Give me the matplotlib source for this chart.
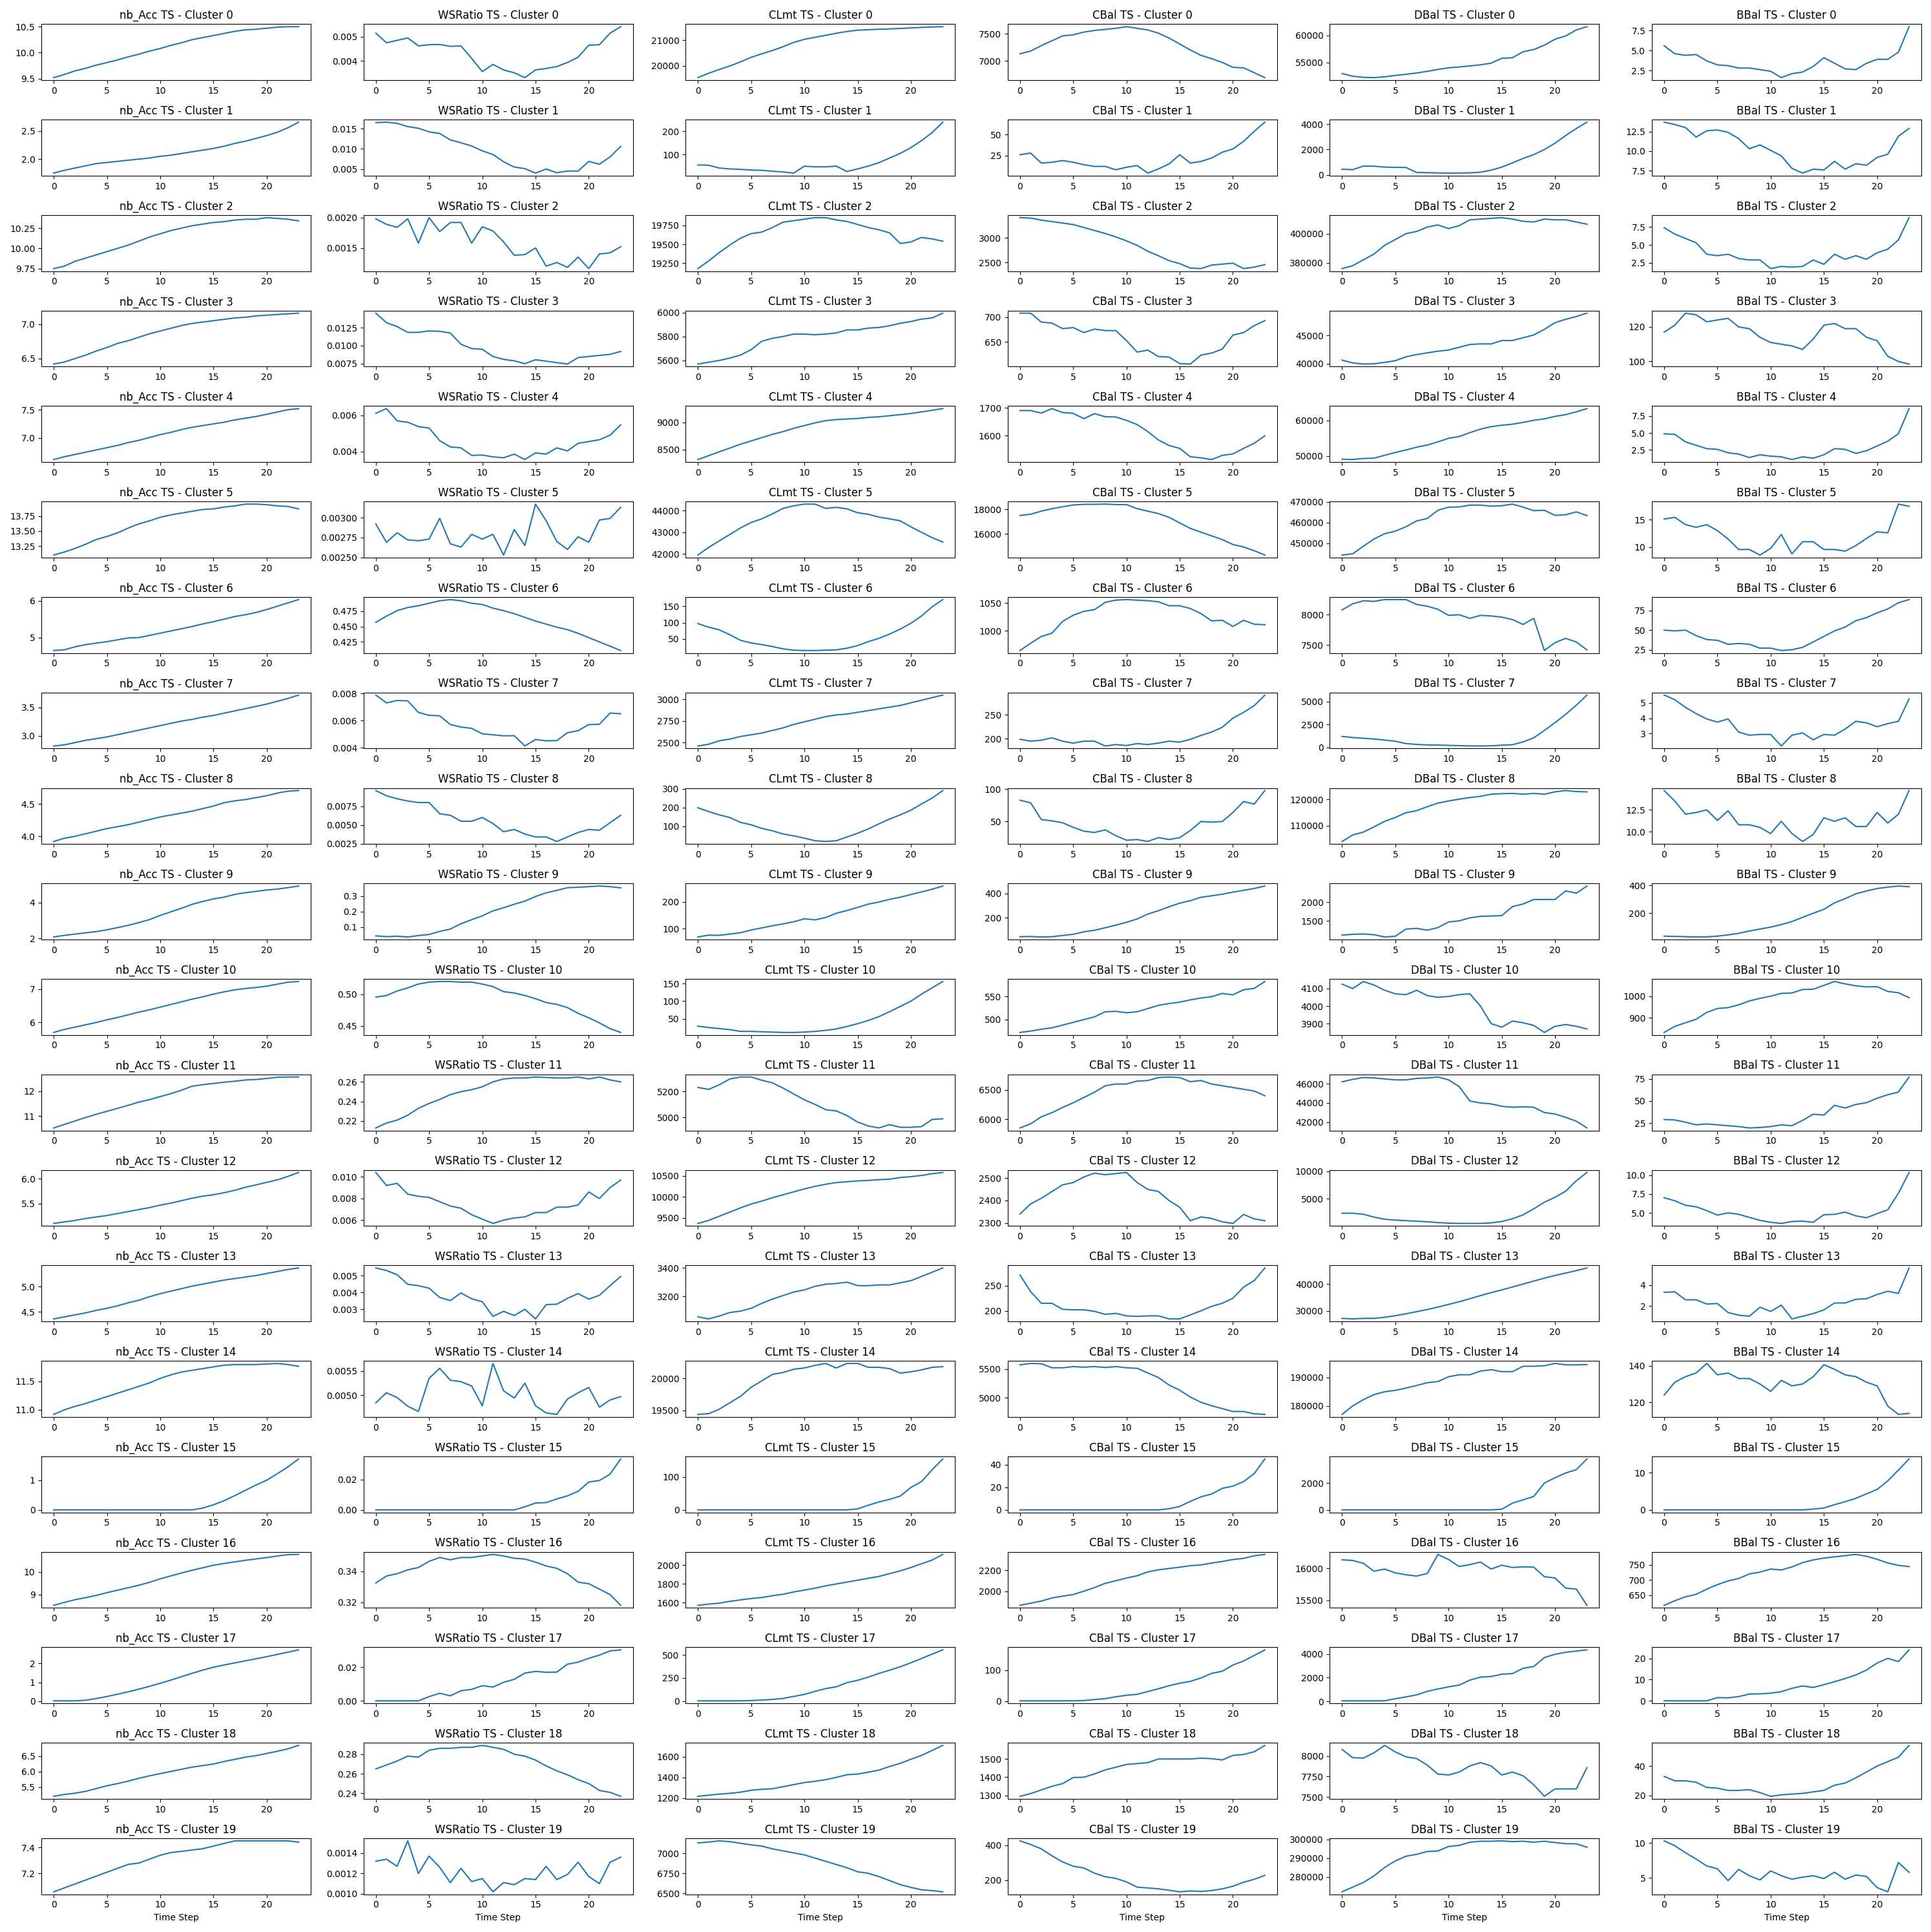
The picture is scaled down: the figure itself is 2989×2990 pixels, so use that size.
import matplotlib
matplotlib.use("Agg")
import matplotlib.pyplot as plt

time_steps = list(range(24))
feature_names = ["nb_Acc", "WSRatio", "CLmt", "CBal", "DBal", "BBal"]

nb_acc = [
    [9.52, 9.58, 9.65, 9.70, 9.76, 9.81, 9.86, 9.92, 9.97, 10.03, 10.08, 10.14, 10.19, 10.25, 10.29, 10.33, 10.37, 10.41, 10.44, 10.45, 10.47, 10.49, 10.50, 10.50],
    [1.75, 1.80, 1.84, 1.88, 1.92, 1.94, 1.96, 1.98, 2.00, 2.02, 2.05, 2.07, 2.10, 2.13, 2.16, 2.19, 2.23, 2.28, 2.32, 2.37, 2.42, 2.48, 2.56, 2.66],
    [9.75, 9.78, 9.84, 9.88, 9.92, 9.96, 10.00, 10.04, 10.09, 10.14, 10.18, 10.22, 10.25, 10.28, 10.30, 10.32, 10.33, 10.35, 10.36, 10.36, 10.38, 10.37, 10.36, 10.34],
    [6.42, 6.45, 6.50, 6.55, 6.61, 6.66, 6.72, 6.76, 6.81, 6.86, 6.90, 6.94, 6.98, 7.01, 7.03, 7.05, 7.07, 7.09, 7.10, 7.12, 7.13, 7.14, 7.15, 7.16],
    [6.62, 6.67, 6.71, 6.75, 6.79, 6.83, 6.87, 6.92, 6.96, 7.01, 7.06, 7.10, 7.15, 7.19, 7.22, 7.25, 7.28, 7.32, 7.35, 7.38, 7.42, 7.46, 7.50, 7.52],
    [13.10, 13.15, 13.21, 13.28, 13.36, 13.41, 13.47, 13.55, 13.62, 13.67, 13.73, 13.77, 13.80, 13.83, 13.86, 13.87, 13.90, 13.92, 13.95, 13.95, 13.94, 13.92, 13.91, 13.87],
    [4.65, 4.67, 4.75, 4.81, 4.85, 4.89, 4.94, 4.99, 5.00, 5.06, 5.12, 5.18, 5.24, 5.30, 5.37, 5.43, 5.50, 5.57, 5.62, 5.68, 5.76, 5.85, 5.94, 6.03],
    [2.82, 2.84, 2.88, 2.92, 2.95, 2.98, 3.02, 3.06, 3.10, 3.14, 3.18, 3.22, 3.26, 3.29, 3.33, 3.36, 3.40, 3.44, 3.48, 3.52, 3.56, 3.61, 3.66, 3.72],
    [3.92, 3.97, 4.00, 4.04, 4.08, 4.12, 4.15, 4.18, 4.22, 4.26, 4.30, 4.33, 4.36, 4.39, 4.43, 4.47, 4.52, 4.55, 4.57, 4.60, 4.63, 4.67, 4.70, 4.71],
    [2.08, 2.17, 2.24, 2.31, 2.38, 2.48, 2.60, 2.73, 2.88, 3.05, 3.28, 3.48, 3.68, 3.90, 4.06, 4.20, 4.30, 4.45, 4.55, 4.62, 4.70, 4.75, 4.83, 4.92],
    [5.70, 5.79, 5.86, 5.93, 6.00, 6.08, 6.15, 6.23, 6.31, 6.38, 6.46, 6.54, 6.62, 6.70, 6.77, 6.85, 6.92, 6.98, 7.02, 7.05, 7.09, 7.15, 7.21, 7.23],
    [10.52, 10.66, 10.80, 10.94, 11.07, 11.19, 11.31, 11.43, 11.56, 11.66, 11.78, 11.90, 12.04, 12.20, 12.26, 12.31, 12.36, 12.40, 12.45, 12.47, 12.51, 12.56, 12.57, 12.57],
    [5.10, 5.13, 5.16, 5.20, 5.23, 5.26, 5.30, 5.34, 5.38, 5.42, 5.47, 5.51, 5.56, 5.61, 5.65, 5.68, 5.72, 5.77, 5.83, 5.88, 5.93, 5.98, 6.05, 6.13],
    [4.36, 4.40, 4.44, 4.48, 4.53, 4.57, 4.62, 4.68, 4.73, 4.80, 4.86, 4.91, 4.96, 5.01, 5.05, 5.09, 5.13, 5.16, 5.19, 5.22, 5.26, 5.30, 5.34, 5.37],
    [10.92, 11.00, 11.06, 11.11, 11.17, 11.23, 11.29, 11.35, 11.41, 11.47, 11.55, 11.61, 11.66, 11.69, 11.72, 11.75, 11.78, 11.79, 11.79, 11.79, 11.80, 11.81, 11.79, 11.76],
    [0.0, 0.0, 0.0, 0.0, 0.0, 0.0, 0.0, 0.0, 0.0, 0.0, 0.0, 0.0, 0.0, 0.0, 0.06, 0.17, 0.31, 0.48, 0.66, 0.84, 1.00, 1.22, 1.45, 1.72],
    [8.53, 8.66, 8.78, 8.87, 8.97, 9.09, 9.20, 9.31, 9.42, 9.55, 9.70, 9.83, 9.96, 10.08, 10.19, 10.30, 10.38, 10.45, 10.52, 10.58, 10.64, 10.71, 10.77, 10.78],
    [0.02, 0.02, 0.02, 0.05, 0.14, 0.25, 0.37, 0.50, 0.64, 0.79, 0.95, 1.12, 1.30, 1.48, 1.65, 1.80, 1.92, 2.03, 2.14, 2.25, 2.36, 2.48, 2.60, 2.72],
    [5.20, 5.26, 5.30, 5.36, 5.45, 5.54, 5.61, 5.69, 5.78, 5.86, 5.93, 6.00, 6.07, 6.14, 6.19, 6.24, 6.32, 6.39, 6.46, 6.51, 6.58, 6.65, 6.73, 6.84],
    [7.06, 7.09, 7.12, 7.15, 7.18, 7.21, 7.24, 7.27, 7.28, 7.31, 7.34, 7.36, 7.37, 7.38, 7.39, 7.41, 7.43, 7.45, 7.45, 7.45, 7.45, 7.45, 7.45, 7.44],
]

ws_ratio = [
    [0.00515, 0.00475, 0.00485, 0.00495, 0.00462, 0.00467, 0.00468, 0.00460, 0.00462, 0.00410, 0.00355, 0.00385, 0.00362, 0.00350, 0.00330, 0.00362, 0.00368, 0.00376, 0.00393, 0.00415, 0.00465, 0.00467, 0.00515, 0.00542],
    [0.0165, 0.0166, 0.0163, 0.0155, 0.0151, 0.0142, 0.0138, 0.0122, 0.0115, 0.0107, 0.0095, 0.0086, 0.0068, 0.0055, 0.0051, 0.0040, 0.0050, 0.0041, 0.0045, 0.0045, 0.0069, 0.0062, 0.0080, 0.0106],
    [0.00198, 0.00189, 0.00184, 0.00198, 0.00158, 0.00200, 0.00177, 0.00192, 0.00192, 0.00158, 0.00185, 0.00178, 0.00160, 0.00138, 0.00139, 0.00150, 0.00120, 0.00126, 0.00118, 0.00135, 0.00116, 0.00140, 0.00142, 0.00152],
    [0.01452, 0.01320, 0.01265, 0.01185, 0.01185, 0.01205, 0.01200, 0.01175, 0.01020, 0.00960, 0.00950, 0.00850, 0.00810, 0.00790, 0.00750, 0.00805, 0.00785, 0.00765, 0.00745, 0.00835, 0.00850, 0.00865, 0.00880, 0.00920],
    [0.00612, 0.00638, 0.00570, 0.00562, 0.00538, 0.00530, 0.00460, 0.00425, 0.00420, 0.00378, 0.00380, 0.00370, 0.00365, 0.00385, 0.00355, 0.00392, 0.00385, 0.00420, 0.00403, 0.00445, 0.00455, 0.00465, 0.00490, 0.00548],
    [0.00292, 0.00269, 0.00281, 0.00272, 0.00271, 0.00273, 0.00299, 0.00267, 0.00263, 0.00279, 0.00273, 0.00279, 0.00253, 0.00285, 0.00265, 0.00317, 0.00296, 0.00270, 0.00260, 0.00276, 0.00269, 0.00297, 0.00299, 0.00313],
    [0.457, 0.467, 0.476, 0.481, 0.484, 0.488, 0.492, 0.494, 0.492, 0.488, 0.486, 0.480, 0.476, 0.471, 0.465, 0.459, 0.454, 0.449, 0.445, 0.439, 0.432, 0.425, 0.418, 0.411],
    [0.00788, 0.00730, 0.00748, 0.00745, 0.00660, 0.00638, 0.00635, 0.00570, 0.00552, 0.00542, 0.00502, 0.00495, 0.00487, 0.00488, 0.00412, 0.00460, 0.00450, 0.00452, 0.00510, 0.00525, 0.00570, 0.00572, 0.00655, 0.00650],
    [0.0096, 0.0089, 0.0085, 0.0082, 0.0080, 0.0080, 0.0065, 0.0063, 0.0055, 0.0055, 0.0060, 0.0052, 0.0041, 0.0044, 0.0038, 0.0034, 0.0034, 0.0028, 0.0034, 0.0040, 0.0044, 0.0043, 0.0053, 0.0063],
    [0.043, 0.038, 0.041, 0.036, 0.045, 0.052, 0.072, 0.087, 0.122, 0.148, 0.173, 0.205, 0.225, 0.248, 0.268, 0.298, 0.322, 0.338, 0.355, 0.358, 0.362, 0.366, 0.362, 0.354],
    [0.4955, 0.498, 0.505, 0.510, 0.516, 0.519, 0.520, 0.520, 0.519, 0.519, 0.516, 0.512, 0.504, 0.502, 0.498, 0.493, 0.487, 0.484, 0.479, 0.470, 0.463, 0.455, 0.446, 0.440],
    [0.213, 0.218, 0.221, 0.226, 0.233, 0.238, 0.242, 0.247, 0.250, 0.252, 0.255, 0.260, 0.263, 0.264, 0.264, 0.265, 0.2645, 0.264, 0.264, 0.265, 0.263, 0.265, 0.262, 0.260],
    [0.0104, 0.0092, 0.0094, 0.0084, 0.0082, 0.0081, 0.0077, 0.0073, 0.0071, 0.0065, 0.0061, 0.0057, 0.0060, 0.0062, 0.0063, 0.0067, 0.0067, 0.0072, 0.0072, 0.0074, 0.0086, 0.0080, 0.0090, 0.0097],
    [0.00545, 0.00530, 0.00505, 0.00448, 0.00440, 0.00425, 0.00370, 0.00352, 0.00397, 0.00362, 0.00345, 0.00258, 0.00288, 0.00263, 0.00300, 0.00243, 0.00328, 0.00330, 0.00365, 0.00393, 0.00360, 0.00383, 0.00440, 0.00495],
    [0.00484, 0.00505, 0.00495, 0.00477, 0.00466, 0.00535, 0.00556, 0.00531, 0.00528, 0.00519, 0.00478, 0.00566, 0.00509, 0.00494, 0.00525, 0.00478, 0.00463, 0.00460, 0.00492, 0.00505, 0.00516, 0.00475, 0.00490, 0.00497],
    [0.0, 0.0, 0.0, 0.0, 0.0, 0.0, 0.0, 0.0, 0.0, 0.0, 0.0, 0.0, 0.0, 0.0, 0.0020, 0.0045, 0.0048, 0.0072, 0.0092, 0.0122, 0.0183, 0.0193, 0.0235, 0.0335],
    [0.3325, 0.3370, 0.3385, 0.3410, 0.3425, 0.3465, 0.3490, 0.3475, 0.3490, 0.3490, 0.3500, 0.3510, 0.3500, 0.3485, 0.3480, 0.3460, 0.3435, 0.3420, 0.3385, 0.3330, 0.3320, 0.3285, 0.3250, 0.3180],
    [0.0, 0.0, 0.0, 0.0, 0.0, 0.0025, 0.0045, 0.0030, 0.0060, 0.0068, 0.0090, 0.0082, 0.0110, 0.0128, 0.0165, 0.0175, 0.0170, 0.0171, 0.0218, 0.0230, 0.0253, 0.0272, 0.0297, 0.0303],
    [0.265, 0.269, 0.273, 0.278, 0.277, 0.284, 0.286, 0.286, 0.287, 0.287, 0.289, 0.287, 0.285, 0.280, 0.278, 0.274, 0.268, 0.263, 0.259, 0.254, 0.250, 0.243, 0.241, 0.237],
    [0.00132, 0.00134, 0.00127, 0.00152, 0.00120, 0.00137, 0.00126, 0.00111, 0.00125, 0.00112, 0.00115, 0.00102, 0.00111, 0.00109, 0.00115, 0.00114, 0.00127, 0.00114, 0.00119, 0.00131, 0.00117, 0.00110, 0.00131, 0.00136],
]

clmt = [
    [19530, 19700, 19850, 19990, 20150, 20330, 20470, 20600, 20750, 20920, 21040, 21120, 21200, 21280, 21350, 21400, 21420, 21440, 21450, 21470, 21490, 21510, 21530, 21540],
    [55, 54, 42, 38, 36, 33, 32, 28, 25, 20, 50, 47, 47, 50, 27, 38, 50, 65, 85, 105, 130, 160, 195, 240],
    [19180, 19280, 19390, 19490, 19580, 19640, 19660, 19720, 19790, 19810, 19830, 19850, 19850, 19820, 19800, 19760, 19720, 19690, 19650, 19510, 19530, 19590, 19570, 19540],
    [5570, 5585, 5600, 5620, 5645, 5690, 5760, 5785, 5800, 5820, 5820, 5815, 5820, 5830, 5855, 5855, 5870, 5875, 5890, 5910, 5925, 5945, 5955, 5995],
    [8320, 8390, 8460, 8530, 8600, 8660, 8720, 8780, 8830, 8890, 8940, 8990, 9030, 9050, 9060, 9070, 9090, 9100, 9120, 9140, 9160, 9190, 9220, 9250],
    [41950, 42300, 42600, 42900, 43200, 43450, 43620, 43850, 44100, 44220, 44300, 44300, 44100, 44150, 44080, 43900, 43830, 43700, 43620, 43530, 43250, 43000, 42750, 42550],
    [97, 86, 78, 63, 46, 38, 33, 27, 20, 16, 15, 15, 16, 17, 22, 30, 42, 52, 65, 80, 98, 120, 148, 170],
    [2460, 2480, 2520, 2540, 2570, 2590, 2610, 2640, 2670, 2710, 2740, 2770, 2800, 2820, 2830, 2850, 2870, 2890, 2910, 2930, 2960, 2990, 3020, 3050],
    [198, 178, 160, 146, 120, 107, 88, 75, 58, 48, 36, 22, 18, 22, 42, 62, 85, 112, 138, 160, 185, 218, 250, 290],
    [69, 76, 75, 80, 85, 95, 103, 111, 118, 126, 137, 133, 142, 158, 168, 180, 192, 200, 210, 218, 228, 238, 248, 260],
    [29, 25, 22, 19, 14, 14, 13, 12, 11, 11, 12, 14, 17, 21, 28, 36, 45, 56, 70, 85, 100, 120, 138, 156],
    [5230, 5215, 5250, 5295, 5310, 5310, 5285, 5265, 5225, 5180, 5135, 5100, 5060, 5050, 5015, 4965, 4935, 4920, 4945, 4925, 4925, 4930, 4985, 4990],
    [9370, 9440, 9540, 9640, 9740, 9830, 9900, 9980, 10050, 10120, 10190, 10250, 10300, 10340, 10360, 10380, 10390, 10410, 10420, 10460, 10480, 10510, 10550, 10580],
    [3055, 3040, 3060, 3085, 3095, 3115, 3150, 3180, 3205, 3230, 3245, 3270, 3285, 3290, 3300, 3275, 3275, 3280, 3280, 3295, 3310, 3340, 3370, 3400],
    [19440, 19450, 19520, 19620, 19720, 19860, 19960, 20060, 20090, 20140, 20160, 20200, 20230, 20160, 20230, 20230, 20170, 20170, 20150, 20080, 20100, 20130, 20170, 20180],
    [0, 0, 0, 0, 0, 0, 0, 0, 0, 0, 0, 0, 0, 0, 0, 3, 14, 24, 32, 42, 68, 86, 122, 155],
    [1572, 1585, 1595, 1615, 1630, 1645, 1655, 1675, 1690, 1715, 1735, 1755, 1780, 1800, 1820, 1840, 1860, 1880, 1910, 1940, 1975, 2015, 2055, 2115],
    [2, 2, 2, 2, 2, 5, 10, 17, 28, 50, 72, 105, 135, 155, 200, 225, 260, 300, 335, 372, 416, 462, 510, 556],
    [1217, 1228, 1238, 1246, 1257, 1275, 1285, 1290, 1310, 1330, 1350, 1362, 1378, 1400, 1425, 1432, 1450, 1470, 1505, 1535, 1575, 1612, 1660, 1709],
    [7129, 7140, 7155, 7145, 7125, 7105, 7090, 7055, 7030, 7005, 6980, 6940, 6900, 6860, 6820, 6770, 6750, 6710, 6660, 6610, 6575, 6545, 6535, 6520],
]

cbal = [
    [7130, 7180, 7280, 7370, 7460, 7480, 7530, 7560, 7580, 7600, 7630, 7600, 7570, 7510, 7420, 7310, 7200, 7100, 7040, 6970, 6880, 6870, 6780, 6690],
    [26, 28, 16, 17, 19, 17, 14, 12, 12, 8, 11, 13, 4, 9, 15, 26, 16, 18, 22, 29, 33, 42, 54, 65],
    [3410, 3400, 3360, 3330, 3300, 3270, 3210, 3150, 3090, 3020, 2940, 2850, 2730, 2640, 2540, 2480, 2390, 2380, 2450, 2470, 2490, 2380, 2410, 2460],
    [708, 708, 690, 688, 677, 679, 669, 676, 673, 673, 653, 630, 634, 621, 620, 607, 606, 624, 628, 636, 664, 669, 683, 693],
    [1690, 1690, 1681, 1697, 1683, 1680, 1661, 1679, 1668, 1667, 1655, 1640, 1615, 1585, 1565, 1555, 1525, 1521, 1515, 1530, 1535, 1555, 1573, 1600],
    [17500, 17600, 17850, 18050, 18200, 18350, 18400, 18400, 18420, 18380, 18380, 18050, 17850, 17650, 17350, 16900, 16450, 16150, 15850, 15550, 15150, 14950, 14650, 14300],
    [965, 978, 990, 996, 1017, 1028, 1035, 1038, 1051, 1055, 1056, 1055, 1054, 1052, 1045, 1045, 1040, 1031, 1018, 1019, 1008, 1019, 1012, 1011],
    [199, 195, 197, 202, 195, 191, 195, 195, 185, 188, 186, 190, 188, 191, 195, 193, 199, 207, 214, 224, 243, 255, 269, 291],
    [83, 79, 53, 51, 48, 41, 35, 33, 37, 28, 21, 22, 19, 25, 22, 25, 36, 50, 49, 50, 64, 81, 77, 98],
    [45, 47, 43, 45, 55, 65, 85, 98, 118, 140, 163, 190, 230, 258, 290, 320, 340, 368, 380, 393, 410, 425, 440, 460],
    [472, 475, 479, 482, 488, 494, 500, 506, 517, 518, 515, 517, 524, 531, 535, 538, 543, 547, 550, 557, 554, 565, 568, 583],
    [5850, 5920, 6040, 6110, 6200, 6280, 6370, 6460, 6570, 6600, 6600, 6650, 6660, 6710, 6720, 6710, 6640, 6660, 6600, 6570, 6540, 6510, 6480, 6400],
    [2340, 2385, 2410, 2440, 2470, 2480, 2505, 2522, 2515, 2520, 2525, 2480, 2450, 2440, 2400, 2370, 2310, 2327, 2320, 2305, 2298, 2338, 2318, 2310],
    [271, 238, 215, 215, 203, 202, 202, 199, 193, 195, 190, 189, 190, 190, 184, 184, 192, 200, 209, 215, 225, 247, 260, 285],
    [5570, 5595, 5590, 5520, 5520, 5540, 5530, 5540, 5525, 5540, 5520, 5510, 5430, 5350, 5220, 5130, 5010, 4920, 4860, 4810, 4760, 4760, 4720, 4710],
    [0, 0, 0, 0, 0, 0, 0, 0, 0, 0, 0, 0, 0, 0, 1, 3, 7.5, 11.5, 14, 19, 21, 25, 32, 45],
    [1864, 1885, 1905, 1935, 1952, 1968, 2000, 2035, 2075, 2100, 2126, 2148, 2185, 2205, 2218, 2230, 2245, 2252, 2270, 2285, 2304, 2315, 2340, 2353],
    [1, 1, 1, 1, 1, 1, 2, 5, 8, 14, 19, 22, 31, 40, 50, 58, 64, 75, 90, 97, 117, 130, 148, 166],
    [1295, 1310, 1330, 1350, 1365, 1398, 1400, 1418, 1440, 1455, 1470, 1475, 1480, 1500, 1500, 1500, 1500, 1505, 1502, 1495, 1520, 1525, 1540, 1575],
    [426, 405, 380, 340, 305, 280, 270, 240, 220, 210, 190, 160, 155, 150, 142, 133, 138, 135, 140, 150, 165, 188, 205, 228],
]

dbal = [
    [53000, 52500, 52300, 52250, 52400, 52650, 52850, 53100, 53400, 53750, 54050, 54200, 54400, 54600, 54900, 55800, 55900, 57000, 57400, 58200, 59300, 59900, 61000, 61600],
    [450, 420, 700, 690, 620, 600, 590, 200, 180, 160, 150, 155, 170, 220, 380, 620, 950, 1300, 1600, 2000, 2500, 3100, 3650, 4150],
    [376000, 378000, 382000, 386000, 392000, 396000, 400000, 401500, 404500, 406000, 403500, 405500, 409500, 410000, 410500, 411000, 410000, 408500, 408000, 410000, 409500, 409500, 408000, 406500],
    [40600, 40100, 39900, 39950, 40200, 40500, 41200, 41600, 41900, 42200, 42400, 42900, 43400, 43500, 43500, 44100, 44100, 44600, 45100, 46100, 47300, 47900, 48400, 49000],
    [49100, 49000, 49300, 49400, 50200, 51000, 51700, 52500, 53100, 54000, 55000, 55500, 56600, 57600, 58300, 58700, 59000, 59500, 60100, 60500, 61200, 61700, 62500, 63400],
    [444200, 444800, 448500, 452000, 454600, 455800, 458000, 460800, 462000, 466000, 467500, 467600, 468500, 468500, 468000, 468200, 469000, 467500, 465800, 466000, 463500, 463800, 465200, 463400],
    [8080, 8180, 8230, 8220, 8250, 8250, 8250, 8170, 8140, 8090, 7990, 8000, 7940, 7990, 7980, 7960, 7920, 7840, 7940, 7410, 7540, 7610, 7550, 7420],
    [1200, 1080, 1000, 920, 800, 680, 420, 330, 280, 260, 230, 200, 170, 160, 180, 250, 300, 600, 1050, 1850, 2700, 3600, 4600, 5700],
    [103900, 106400, 107500, 109500, 111600, 113100, 114900, 115700, 117200, 118600, 119400, 120100, 120700, 121200, 122000, 122200, 122300, 122000, 122300, 122000, 122900, 123400, 123000, 122900],
    [1120, 1140, 1150, 1130, 1070, 1090, 1280, 1300, 1250, 1320, 1470, 1500, 1580, 1620, 1630, 1640, 1880, 1950, 2070, 2070, 2070, 2300, 2240, 2430],
    [4125, 4100, 4140, 4120, 4090, 4070, 4065, 4090, 4060, 4050, 4055, 4065, 4070, 4000, 3900, 3880, 3915, 3905, 3890, 3850, 3885, 3895, 3885, 3870],
    [46200, 46450, 46650, 46600, 46500, 46400, 46400, 46550, 46600, 46700, 46400, 45700, 44200, 44000, 43900, 43650, 43550, 43600, 43550, 43000, 42850, 42500, 42100, 41400],
    [2400, 2400, 2200, 1700, 1300, 1150, 1050, 950, 850, 700, 600, 550, 550, 550, 650, 900, 1400, 2100, 3200, 4400, 5300, 6400, 8300, 9800],
    [27200, 27000, 27200, 27200, 27600, 28200, 28900, 29700, 30500, 31400, 32400, 33400, 34500, 35700, 36800, 37800, 38900, 40000, 41100, 42200, 43200, 44100, 45000, 46000],
    [177000, 180000, 182200, 184000, 185000, 185500, 186300, 187200, 188200, 188600, 190300, 191000, 191000, 192300, 192800, 192100, 192100, 194000, 194000, 194200, 195000, 194500, 194500, 194600],
    [0, 0, 0, 0, 0, 0, 0, 0, 0, 0, 0, 0, 0, 0, 0, 50, 500, 750, 1000, 2000, 2400, 2750, 3000, 3800],
    [16135, 16125, 16080, 15955, 15990, 15930, 15900, 15880, 15920, 16220, 16140, 16030, 16060, 16100, 15990, 16050, 16015, 16025, 16020, 15870, 15850, 15690, 15675, 15420],
    [50, 50, 50, 50, 50, 230, 380, 550, 850, 1050, 1230, 1380, 1800, 2050, 2100, 2300, 2350, 2800, 2950, 3700, 3980, 4150, 4250, 4350],
    [8080, 7980, 7975, 8040, 8130, 8050, 7990, 7970, 7890, 7780, 7770, 7805, 7880, 7920, 7880, 7770, 7805, 7760, 7650, 7510, 7600, 7600, 7600, 7860],
    [272000, 274500, 277000, 280500, 285000, 288500, 291000, 292000, 293500, 293800, 296200, 296800, 298500, 299000, 299000, 299200, 298800, 299000, 298500, 299000, 298300, 297700, 297600, 295800],
]

bbal = [
    [5.6, 4.6, 4.4, 4.5, 3.7, 3.2, 3.1, 2.8, 2.8, 2.6, 2.4, 1.6, 2.1, 2.3, 3.0, 4.1, 3.4, 2.7, 2.6, 3.4, 3.9, 3.9, 4.8, 8.0],
    [13.7, 13.4, 13.0, 11.8, 12.6, 12.7, 12.4, 11.6, 10.3, 10.8, 10.1, 9.4, 7.8, 7.2, 7.7, 7.6, 8.7, 7.7, 8.4, 8.2, 9.2, 9.6, 11.9, 12.9],
    [7.4, 6.5, 5.9, 5.3, 3.7, 3.5, 3.7, 3.1, 2.9, 2.9, 1.7, 2.0, 1.9, 2.0, 2.9, 2.3, 3.7, 3.0, 3.5, 3.0, 3.9, 4.4, 5.7, 8.8],
    [117, 121, 128, 127, 123, 124, 125, 120, 119, 114, 111, 110, 109, 107, 113, 121, 122, 119, 119, 114, 112, 103, 100, 98.5],
    [4.9, 4.8, 3.7, 3.2, 2.7, 2.6, 2.1, 1.9, 1.4, 1.8, 1.6, 1.5, 1.1, 1.5, 1.3, 1.8, 2.7, 2.6, 2.0, 2.4, 3.1, 3.8, 4.9, 8.6],
    [15.1, 15.4, 14.1, 13.6, 14.1, 13.0, 11.5, 9.6, 9.6, 8.6, 9.8, 12.3, 8.8, 11.0, 11.0, 9.6, 9.6, 9.3, 10.3, 11.6, 12.8, 12.6, 17.8, 17.4],
    [50, 49, 50, 43, 38, 37, 32, 33, 32, 27, 27, 24, 25, 28, 35, 42, 49, 54, 62, 66, 72, 77, 85, 89],
    [5.5, 5.2, 4.7, 4.3, 3.95, 3.75, 3.95, 3.1, 2.9, 2.95, 2.95, 2.2, 2.9, 3.05, 2.6, 2.95, 2.9, 3.3, 3.8, 3.7, 3.45, 3.65, 3.8, 5.25],
    [14.7, 13.5, 12.0, 12.2, 12.5, 11.3, 12.4, 10.8, 10.8, 10.5, 9.8, 11.2, 9.8, 8.9, 9.7, 11.6, 11.2, 11.6, 10.6, 10.6, 12.2, 11.0, 12.0, 14.7],
    [35, 33, 31, 29, 30, 35, 44, 55, 72, 86, 100, 118, 140, 170, 200, 228, 275, 305, 340, 360, 378, 388, 396, 391],
    [832, 860, 877, 893, 925, 943, 947, 960, 978, 990, 1000, 1013, 1015, 1031, 1032, 1050, 1068, 1057, 1048, 1043, 1044, 1022, 1016, 993],
    [29, 28.5, 26, 23, 24, 23, 22, 21, 19.5, 20, 21, 23, 22, 28, 35, 34, 45, 42, 46, 48, 53, 57, 60, 77],
    [7.0, 6.6, 6.0, 5.8, 5.3, 4.7, 5.0, 4.8, 4.4, 4.0, 3.75, 3.6, 3.85, 3.9, 3.75, 4.75, 4.8, 5.1, 4.6, 4.35, 4.9, 5.4, 7.6, 10.35],
    [3.3, 3.35, 2.6, 2.6, 2.2, 2.25, 1.4, 1.15, 1.05, 1.9, 1.5, 2.1, 0.8, 1.05, 1.3, 1.65, 2.3, 2.3, 2.65, 2.7, 3.1, 3.4, 3.2, 5.6],
    [124, 131, 134, 136, 141.2, 135, 136, 133, 133, 130, 126, 132, 129, 130, 134, 140.5, 138, 135, 134, 131, 129, 118, 113.5, 114],
    [0, 0, 0, 0, 0, 0, 0, 0, 0, 0, 0, 0, 0, 0, 0.2, 0.5, 1.4, 2.2, 3.1, 4.3, 5.5, 7.8, 10.7, 13.7],
    [617, 632, 645, 653, 670, 685, 697, 705, 720, 726, 736, 733, 743, 757, 766, 772, 776, 780, 784, 778, 768, 756, 748, 744],
    [0, 0, 0, 0, 0, 1.5, 1.4, 2.0, 3.2, 3.3, 3.6, 4.3, 5.9, 7.0, 6.3, 7.6, 9.0, 10.5, 12.2, 14.5, 17.8, 20.0, 18.5, 24.0],
    [33, 30, 30, 29, 25.5, 25, 23.5, 23.5, 24, 22, 19.5, 20.5, 21, 21.5, 22.5, 23.5, 27, 28.5, 32, 36, 40, 43, 46, 54],
    [10.3, 9.6, 8.6, 7.7, 6.7, 6.3, 4.6, 6.2, 5.3, 4.7, 6.0, 5.3, 4.8, 5.1, 5.3, 4.9, 5.8, 4.8, 5.4, 5.2, 3.6, 3.0, 7.2, 5.8],
]

series_by_feature = [nb_acc, ws_ratio, clmt, cbal, dbal, bbal]
n_clusters = len(nb_acc)
n_feat = len(feature_names)

fig, axes = plt.subplots(n_clusters, n_feat, figsize=(29.89, 29.90), dpi=100)
for c in range(n_clusters):
    for f in range(n_feat):
        ax = axes[c, f]
        ax.plot(time_steps, series_by_feature[f][c], color="#1f77b4", linewidth=1.5)
        ax.set_title(f"{feature_names[f]} TS - Cluster {c}", fontsize=12)
        if c == n_clusters - 1:
            ax.set_xlabel("Time Step")
plt.tight_layout()
fig.savefig("out.png", dpi=100)
